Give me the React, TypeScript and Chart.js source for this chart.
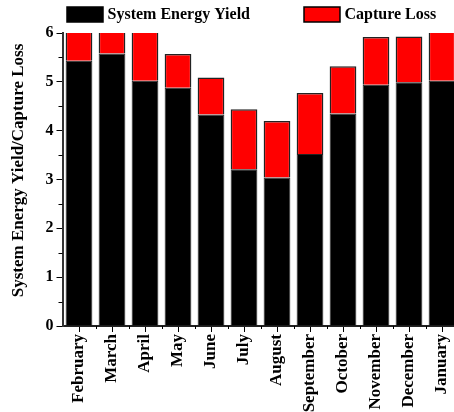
import React, { useEffect, useRef } from "react";
import { Chart, registerables } from "chart.js";

Chart.register(...registerables);

const months = [
  "February", "March", "April", "May", "June", "July",
  "August", "September", "October", "November", "December", "January",
];
const systemEnergyYield = [5.43, 5.58, 5.02, 4.88, 4.33, 3.21, 3.04, 3.52, 4.35, 4.94, 4.99, 5.02];
const captureLoss = [0.87, 0.67, 1.28, 0.69, 0.76, 1.23, 1.16, 1.25, 0.97, 0.98, 0.94, 1.18];
const yTicks = [0, 1, 2, 3, 4, 5, 6];
const seriesNames = ["System Energy Yield", "Capture Loss"];
const seriesColors = ["#000000", "#ff0000"];
const yTitle = "System Energy Yield/Capture Loss";

const FONT = "'Liberation Serif', 'Times New Roman', serif";

const decorPlugin = {
  id: "decor",
  afterDraw(chart: any) {
    const { ctx, chartArea, scales } = chart;
    ctx.save();
    // minor ticks on y axis
    ctx.strokeStyle = "#000";
    ctx.lineWidth = 1;
    const ys = scales.y;
    for (let i = 0; i < yTicks.length - 1; i++) {
      const v = (yTicks[i] + yTicks[i + 1]) / 2;
      const py = Math.round(ys.getPixelForValue(v)) + 0.5;
      ctx.beginPath();
      ctx.moveTo(chartArea.left - 4, py);
      ctx.lineTo(chartArea.left, py);
      ctx.stroke();
    }
    // minor ticks on x axis (category boundaries)
    const xs = scales.x;
    for (let i = 0; i < months.length - 1; i++) {
      const px = Math.round((xs.getPixelForValue(i) + xs.getPixelForValue(i + 1)) / 2) + 0.5;
      ctx.beginPath();
      ctx.moveTo(px, chartArea.bottom);
      ctx.lineTo(px, chartArea.bottom + 3);
      ctx.stroke();
    }
    // y axis title
    ctx.save();
    ctx.font = `bold 17px ${FONT}`;
    ctx.fillStyle = "#000";
    ctx.textAlign = "center";
    ctx.textBaseline = "middle";
    ctx.translate(19, (chartArea.top + chartArea.bottom) / 2 - 9);
    ctx.rotate(-Math.PI / 2);
    ctx.fillText(yTitle, 0, 0);
    ctx.restore();
    // legend
    ctx.font = `bold 16px ${FONT}`;
    ctx.textBaseline = "middle";
    ctx.textAlign = "left";
    const items = [
      { x: chartArea.left + 4.5, text: seriesNames[0], color: seriesColors[0] },
      { x: chartArea.left + 241.5, text: seriesNames[1], color: seriesColors[1] },
    ];
    for (const it of items) {
      ctx.fillStyle = it.color;
      ctx.fillRect(it.x, 7, 36, 15);
      ctx.strokeStyle = "#000";
      ctx.lineWidth = 1.5;
      ctx.strokeRect(it.x, 7, 36, 15);
      ctx.fillStyle = "#000";
      ctx.fillText(it.text, it.x + 40.5, 15);
    }
    ctx.restore();
  },
};

export default function App() {
  const canvasRef = useRef<HTMLCanvasElement | null>(null);

  useEffect(() => {
    const canvas = canvasRef.current;
    if (!canvas) return;
    const chart = new Chart(canvas, {
      type: "bar",
      data: {
        labels: months,
        datasets: [
          {
            label: seriesNames[0],
            data: systemEnergyYield,
            backgroundColor: seriesColors[0],
            borderColor: "#222",
            borderWidth: 1,
            categoryPercentage: 1,
            barPercentage: 0.81,
          },
          {
            label: seriesNames[1],
            data: captureLoss,
            backgroundColor: seriesColors[1],
            borderColor: "#222",
            borderWidth: 1.5,
            categoryPercentage: 1,
            barPercentage: 0.81,
          },
        ],
      },
      options: {
        responsive: true,
        maintainAspectRatio: false,
        animation: false,
        layout: { padding: { top: 33, right: 11.5, left: 0, bottom: 0 } },
        plugins: {
          legend: { display: false },
          tooltip: { enabled: false },
        },
        scales: {
          x: {
            stacked: true,
            grid: {
              offset: false,
              drawOnChartArea: false,
              tickLength: 6,
              color: "#000",
            },
            border: { display: true, color: "#222", width: 2 },
            ticks: {
              minRotation: 90,
              maxRotation: 90,
              autoSkip: false,
              padding: 2,
              color: "#000",
              font: { family: FONT, size: 17, weight: "bold" },
            },
            afterFit: (scale: any) => {
              scale.height = 86;
            },
          },
          y: {
            stacked: true,
            min: 0,
            max: 6,
            afterBuildTicks: (scale: any) => {
              scale.ticks = yTicks.map((v) => ({ value: v }));
            },
            grid: {
              drawOnChartArea: false,
              tickLength: 6,
              color: "#000",
            },
            border: { display: true, color: "#333", width: 2 },
            ticks: {
              padding: 3,
              color: "#000",
              font: { family: FONT, size: 16, weight: "bold" },
            },
            title: { display: false, text: yTitle },
            afterFit: (scale: any) => {
              scale.width = 62.5;
            },
          },
        },
      },
      plugins: [decorPlugin],
    });
    return () => chart.destroy();
  }, []);

  return (
    <div
      style={{
        position: "fixed",
        left: 0,
        top: 0,
        width: 454,
        height: 412,
        overflow: "hidden",
        background: "#fff",
      }}
    >
      <div style={{ position: "relative", width: 470, height: 412 }}>
        <canvas ref={canvasRef} />
      </div>
    </div>
  );
}
